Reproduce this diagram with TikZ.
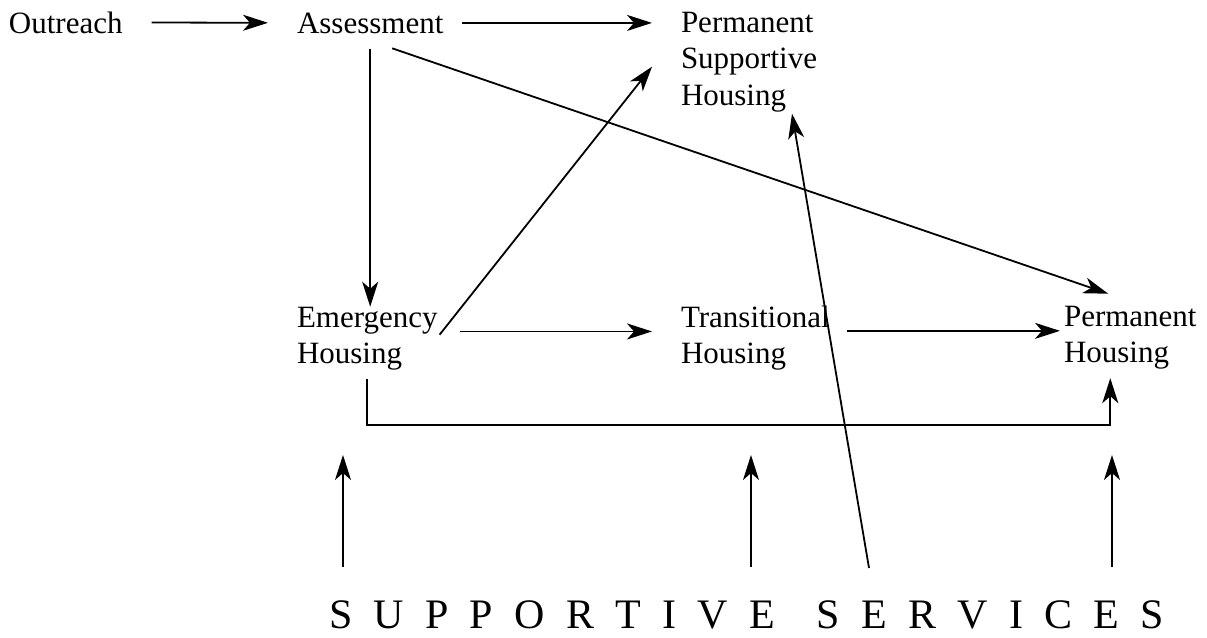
\documentclass[tikz,border=0pt]{standalone}
\usepackage{fontspec}
\setmainfont{Liberation Serif}
\usetikzlibrary{arrows.meta}
\begin{document}
\begin{tikzpicture}[x=1pt,y=-1pt,
  lbl/.style={inner sep=0pt, outer sep=0pt, anchor=base west, align=left,
    font=\fontsize{31}{36.5}\selectfont},
  sslbl/.style={inner sep=0pt, outer sep=0pt, anchor=base west,
    font=\fontsize{42}{48}\selectfont},
  arr/.style={line width=1.8pt, -{Stealth[length=25pt,width=16pt,inset=7pt]}}]
\useasboundingbox (0,0) rectangle (1207,637);
\node[lbl] (out) at (9,33) {Outreach};
\node[lbl] (ass) at (297,33) {Assessment};
\node[lbl] (psh) at (681,105) {Permanent\\Supportive\\Housing};
\node[lbl] (emh) at (297,363.5) {Emergency\\Housing};
\node[lbl] (trh) at (681,363.5) {Transitional\\Housing};
\node[lbl] (ph) at (1064,362.5) {Permanent\\Housing};
\node[sslbl] (ss) at (329,628) {\spaceskip=21.3pt plus 0pt minus 0pt S U P P O R T I V E\hspace{41.5pt}S E R V I C E S};
\coordinate (busy) at (0,425);
\coordinate (t1) at (343,455);
\coordinate (t2) at (751,455);
\coordinate (t3) at (1112,455);
\coordinate (s4) at (869,568);
\draw[arr, shorten <=29pt, shorten >=29pt] (out.east) -- (ass.west);
\draw[arr, shorten <=19pt, shorten >=29pt] (ass.east) -- (ass.east -| psh.west);
\draw[arr, shorten <=16pt] (ass.south) -- (ass.south |- emh.north);
\draw[arr] ([xshift=22pt,yshift=-15pt]ass.south) -- ([xshift=-22pt,yshift=12pt]ph.north);
\draw[arr] ([xshift=2pt,yshift=-28pt]emh.north east) -- ([xshift=-29pt,yshift=-5pt]psh.west);
\draw[arr, shorten <=22pt, shorten >=29pt] ([yshift=7pt]emh.east) -- ([yshift=7pt]emh.east -| trh.west);
\draw[arr, shorten <=17pt, shorten >=4pt] ([yshift=7pt]trh.east) -- ([yshift=7pt]trh.east -| ph.west);
\draw[arr] ([yshift=-9pt]emh.south) -- (emh.south |- busy) -| ([xshift=-20pt,yshift=-9pt]ph.south);
\draw[arr, shorten <=33pt] (t1 |- ss.north) -- (t1);
\draw[arr, shorten <=33pt] (t2 |- ss.north) -- (t2);
\draw[arr, shorten <=33pt] (t3 |- ss.north) -- (t3);
\draw[arr] (s4) -- ([xshift=43pt,yshift=-2pt]psh.south);
\end{tikzpicture}
\end{document}
